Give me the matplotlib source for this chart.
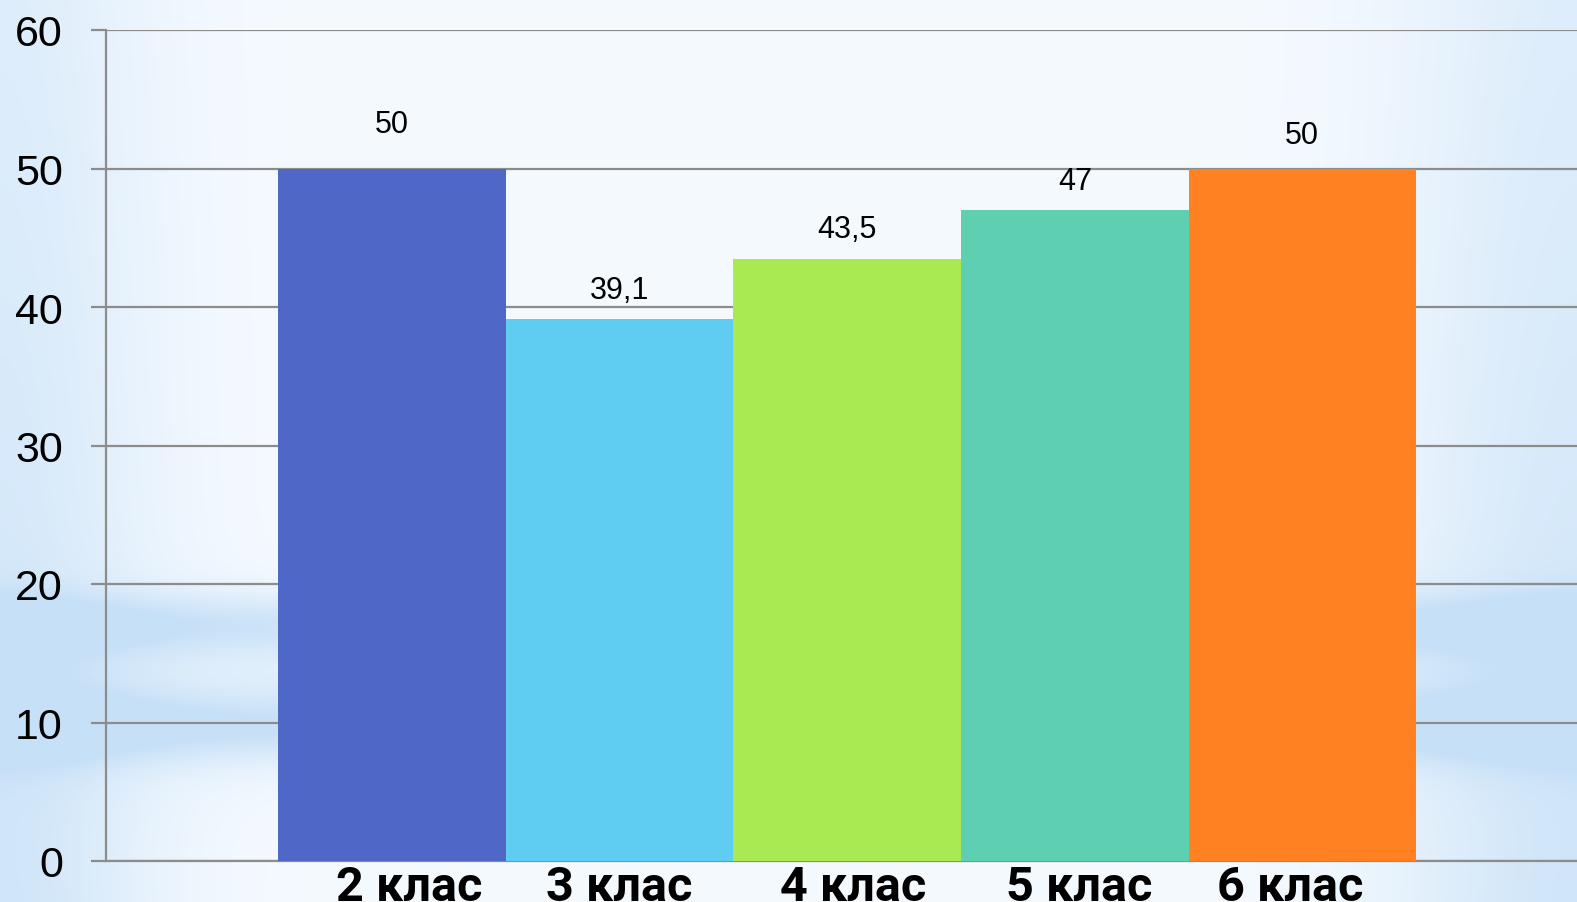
import numpy as np
import matplotlib
matplotlib.use('Agg')
import matplotlib.pyplot as plt
import matplotlib.transforms as mtransforms

# 데이터
classes = ['2 клас', '3 клас', '4 клас', '5 клас', '6 клас']
values = [50, 39.1, 43.5, 47, 50]
value_labels = ['50', '39,1', '43,5', '47', '50']
colors = ['#4F67C7', '#5FCDF2', '#A9EA52', '#5ECFB1', '#FF8121']
label_offsets = [32, 21, 21, 21, 24]  # points above bar top
xlabel_shift = [12, 0, 4, 3, -9]      # points, nudge of category labels

W, H = 1577, 903
fig = plt.figure(figsize=(W / 100, H / 100), dpi=100)

# 배경 그라디언트
yy, xx = np.mgrid[0:H, 0:W]
edge = np.exp(-(xx / 150.0) ** 2) * 0.8 + np.exp(-((W - xx) / 180.0) ** 2) * 0.8
edge *= 0.6 + 0.4 * (yy / H)
bands = 0.7 * np.exp(-((yy - 625) / 30.0) ** 2) + 0.75 * np.exp(-((yy - 728) / 34.0) ** 2)
bands += 0.3 * np.exp(-((yy - 690) / 80.0) ** 2)
w = np.clip(edge + bands, 0, 1)[..., None]
light = np.array([0.96, 0.98, 1.0])
blue = np.array([0.78, 0.88, 0.97])
bg = light * (1 - w) + blue * w
bg_ax = fig.add_axes([0, 0, 1, 1], zorder=-1)
bg_ax.imshow(bg, aspect='auto', extent=[0, 1, 0, 1])
bg_ax.axis('off')

ax = fig.add_axes([106 / W, 1 - 862 / H, 1 - 106 / W, (862 - 31) / H])
ax.patch.set_alpha(0)
x = np.arange(len(classes))
bars = ax.bar(x, values, width=1.0, color=colors, zorder=3)

for xi, v, lab, off in zip(x, values, value_labels, label_offsets):
    ax.annotate(lab, (xi, v), xytext=(0, off), textcoords='offset points',
                ha='center', va='center', fontsize=22, family='Liberation Sans',
                color='black')

ax.set_ylim(0, 60)
ax.set_xlim(-1.257, 5.207)
ax.set_yticks(range(0, 61, 10))
ax.yaxis.grid(True, color='#8C8C8C', linewidth=1.6, zorder=0)
ax.set_axisbelow(True)
ax.tick_params(axis='y', length=11, width=1.6, color='#8C8C8C', pad=20,
               labelsize=31)
for t in ax.get_yticklabels():
    t.set_family('Liberation Sans')

ax.set_xticks(x)
ax.set_xticklabels(classes, fontsize=35, fontweight='bold', family='Roboto')
ax.tick_params(axis='x', length=0, pad=0)
for t, dx in zip(ax.get_xticklabels(), xlabel_shift):
    t.set_transform(t.get_transform() +
                    mtransforms.ScaledTranslation(dx / 72, -2 / 72, fig.dpi_scale_trans))

for s in ['top', 'right']:
    ax.spines[s].set_visible(False)
ax.spines['left'].set_color('#8C8C8C')
ax.spines['left'].set_linewidth(1.6)
ax.spines['bottom'].set_color('#8C8C8C')
ax.spines['bottom'].set_linewidth(1.6)

fig.savefig('out.png', dpi=100)
